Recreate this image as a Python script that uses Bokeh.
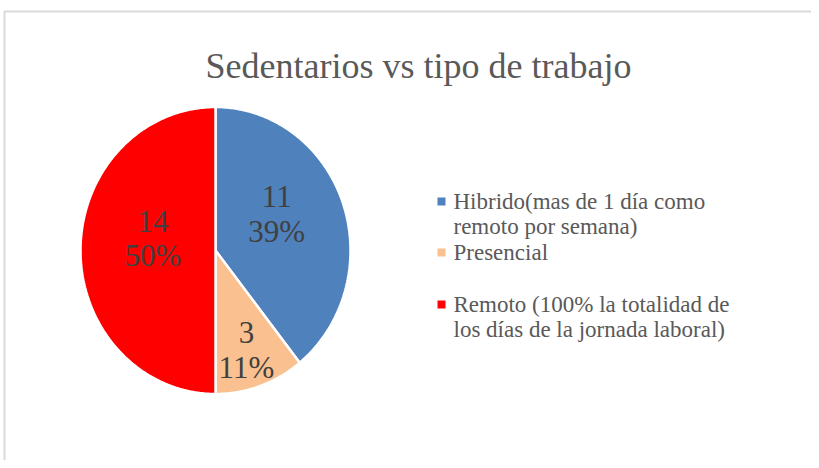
import numpy as np
from bokeh.plotting import figure
from bokeh.models import Range1d, ColumnDataSource
from bokeh.core.properties import value
from bokeh.embed import file_html
from bokeh.resources import INLINE

# ---- data ----
title = "Sedentarios vs tipo de trabajo"
categories = ["Hibrido(mas de 1 día  como\nremoto por semana)",
              "Presencial",
              "Remoto (100% la totalidad de\nlos días de la jornada laboral)"]
counts = [11, 3, 14]
colors = ["#4F81BD", "#FAC090", "#FF0000"]

# ---- layout constants (page pixels) ----
W, H = 811, 460
CX, CY = 215, 250
RX, RY = 135, 143.5
label_r = [0.52, 0.73, 0.47]
label_da = [10, -1, -10]
FONT = "Liberation Serif"

p = figure(width=W, height=H, output_backend="svg", toolbar_location=None,
           x_range=Range1d(0, W), y_range=Range1d(H, 0),
           min_border=0)
p.axis.visible = False
p.grid.visible = False
p.outline_line_color = None
p.background_fill_color = "white"
p.border_fill_color = "white"

# chart border (top and left visible)
p.line(x=[4, 4, W], y=[H, 11, 11], line_color="#D9D9D9", line_width=2)

# pie
total = sum(counts)
cum = np.concatenate([[0], np.cumsum(counts)])
xs, ys, lx, ly, ltxt = [], [], [], [], []
for i, v in enumerate(counts):
    a0 = np.deg2rad(90 - 360 * cum[i] / total)
    a1 = np.deg2rad(90 - 360 * cum[i + 1] / total)
    th = np.linspace(a0, a1, 200)
    xs.append([CX] + list(CX + RX * np.cos(th)) + [CX])
    ys.append([CY] + list(CY - RY * np.sin(th)) + [CY])
    am = (a0 + a1) / 2 + np.deg2rad(label_da[i])
    lx.append(CX + label_r[i] * RX * np.cos(am))
    ly.append(CY - label_r[i] * RY * np.sin(am))
    ltxt.append(f"{v}\n{round(100 * v / total)}%")

p.patches(xs=xs, ys=ys, fill_color=colors, line_color="white", line_width=2.5)

p.text(x=lx, y=ly, text=ltxt, text_font=value(FONT), text_font_size="31px",
       text_color="#404040", text_align="center", text_baseline="middle",
       text_line_height=0.98)

# title
p.text(x=[418], y=[65], text=[title], text_font=value(FONT),
       text_font_size="36px", text_color="#595959", text_align="center",
       text_baseline="alphabetic")

# legend
leg_y = [201, 252, 304]
src = ColumnDataSource(dict(x=[441] * 3, y=leg_y, c=colors,
                            tx=[453] * 3, ty=[y - 13 for y in leg_y], t=categories))
p.rect(x="x", y="y", width=8, height=8, fill_color="c", line_color=None, source=src)
p.text(x="tx", y="ty", text="t", text_font=value(FONT), text_font_size="23px",
       text_color="#595959", text_align="left", text_baseline="top",
       text_line_height=1.02, source=src)

open("out.html", "w").write(file_html(p, INLINE))
